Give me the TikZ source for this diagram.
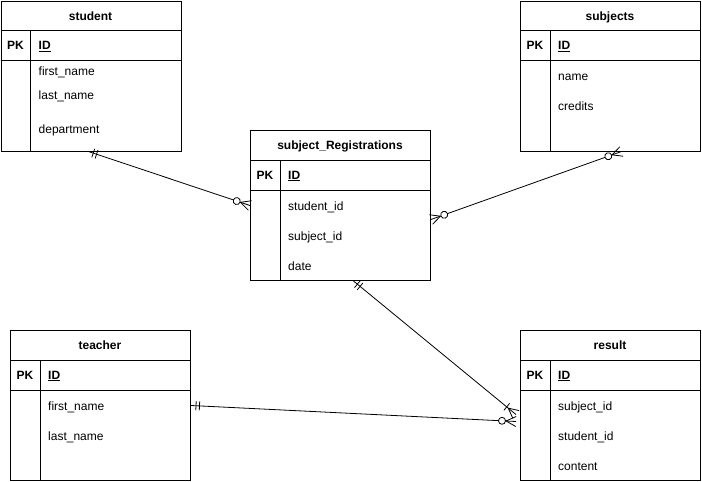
\documentclass[tikz,border=0pt]{standalone}
\usepackage{fontspec}
\setmainfont{Liberation Sans}
\usetikzlibrary{decorations.markings,calc}
\tikzset{
  tbl/.style={draw, line width=1pt, anchor=north west, minimum width=180pt, minimum height=150pt, inner sep=0pt},
  sep/.style={line width=1pt},
  ttl/.style={font=\fontsize{12}{14}\selectfont\bfseries, inner sep=0pt, text height=9pt, text depth=3pt},
  fld/.style={font=\fontsize{12}{14}\selectfont, anchor=west, inner sep=0pt, text height=9pt, text depth=3pt},
  conn/.style={line width=0.8pt},
  mone start/.style={postaction={decorate, decoration={markings,
      mark=at position 5pt with {\draw[line width=0.8pt] (0,-4.5) -- (0,4.5);},
      mark=at position 8.5pt with {\draw[line width=0.8pt] (0,-4.5) -- (0,4.5);}}}},
  zmany end/.style={postaction={decorate, decoration={markings,
      mark=at position -10pt with {\draw[line width=0.8pt] (0,0) -- (10,5) (0,0) -- (10,-5);},
      mark=at position -14pt with {\draw[line width=0.8pt, fill=white] (0,0) circle (3.5pt);}}}},
  zmany start/.style={postaction={decorate, decoration={markings,
      mark=at position 10pt with {\draw[line width=0.8pt] (0,0) -- (-10,5) (0,0) -- (-10,-5);},
      mark=at position 14pt with {\draw[line width=0.8pt, fill=white] (0,0) circle (3.5pt);}}}},
  omany end/.style={postaction={decorate, decoration={markings,
      mark=at position -10pt with {\draw[line width=0.8pt] (0,0) -- (10,5) (0,0) -- (10,-5);},
      mark=at position -12pt with {\draw[line width=0.8pt] (0,-4.5) -- (0,4.5);}}}},
}
\newcommand\erframe[4]{%
  \node[tbl] (#1) at (#2,#3) {};
  \draw[sep] (#2,#3+30) -- (#2+180,#3+30);
  \draw[sep] (#2,#3+60) -- (#2+180,#3+60);
  \draw[sep] (#2+30,#3+30) -- (#2+30,#3+150);
  \node[ttl] (#1-title) at (#2+90,#3+16.5) {#4};
  \node[ttl] (#1-pk) at (#2+15,#3+46) {PK};
  \node[ttl, anchor=west] (#1-id) at (#2+38,#3+46) {\underline{ID}};
}
\begin{document}
\begin{tikzpicture}[x=1pt, y=-1pt]
\useasboundingbox (0,0) rectangle (702,482);

\erframe{student}{0.5}{0.5}{student}
\node[fld] (student-f1) at (38.5,72.5) {first\_name};
\node[fld] (student-f2) at (38.5,96.5) {last\_name};
\node[fld] (student-f3) at (38.5,130.5) {department};

\erframe{subjects}{520}{0.5}{subjects}
\node[fld] (subjects-f1) at (558,77) {name};
\node[fld] (subjects-f2) at (558,107) {credits};

\erframe{reg}{250}{130}{subject\_Registrations}
\node[fld] (reg-f1) at (288,207) {student\_id};
\node[fld] (reg-f2) at (288,237) {subject\_id};
\node[fld] (reg-f3) at (288,267) {date};

\erframe{teacher}{10}{330}{teacher}
\node[fld] (teacher-f1) at (48,407) {first\_name};
\node[fld] (teacher-f2) at (48,437) {last\_name};

\erframe{result}{520}{330}{result}
\node[fld] (result-f1) at (558,407) {subject\_id};
\node[fld] (result-f2) at (558,437) {student\_id};
\node[fld] (result-f3) at (558,467) {content};

% connector end points
\coordinate (c1a) at ([xshift=-2.5pt]student.south);
\coordinate (c1b) at (reg.west);
\coordinate (c2a) at ([yshift=-14pt]reg.east);
\coordinate (c2b) at ([xshift=11pt]subjects.south);
\coordinate (c3a) at ([xshift=13pt]reg.south);
\coordinate (c3b) at ([xshift=-4pt,yshift=-9pt]result.west);
\coordinate (c4a) at (teacher.east);
\coordinate (c4b) at ([xshift=-4pt,yshift=-16pt]result.west);

\draw[conn, mone start, zmany end] (c1a) -- (c1b);
\draw[conn, zmany start, zmany end] (c2a) -- (c2b);
\draw[conn, mone start, omany end] (c3a) -- (c3b);
\draw[conn, mone start, zmany end] (c4a) -- (c4b);
\end{tikzpicture}
\end{document}
